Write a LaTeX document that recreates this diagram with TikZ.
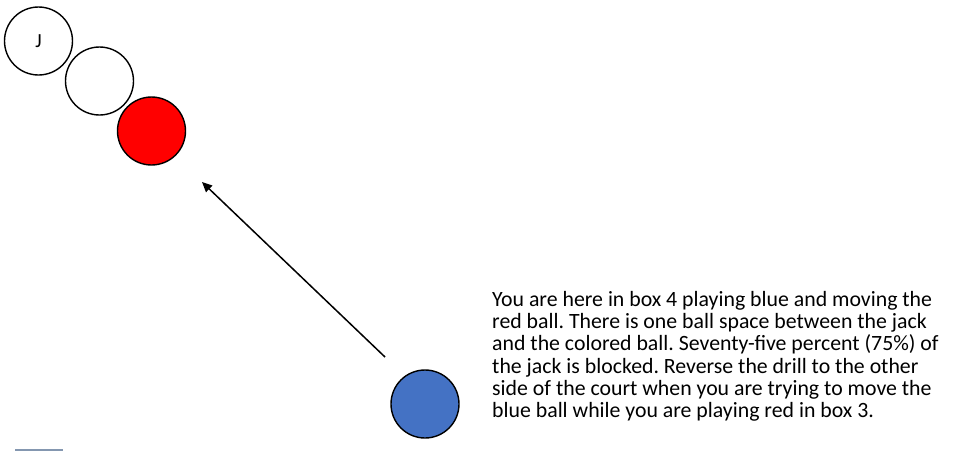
\documentclass[tikz,border=0pt]{standalone}
\usepackage{fontspec}
\setmainfont{Carlito}
\usetikzlibrary{arrows.meta}
\definecolor{ballblue}{HTML}{4472C4}
\definecolor{ballred}{HTML}{FF0000}
\definecolor{rulegray}{HTML}{8497B0}
\tikzset{
  ball/.style={circle, draw=black, line width=1.4pt, minimum size=68pt, inner sep=0pt},
}
\begin{document}
\frenchspacing
\begin{tikzpicture}[x=1pt,y=-1pt]
    \useasboundingbox (0,0) rectangle (956,451);

    % jack and the balls in front of it
    \node[ball, font=\fontsize{20}{22}\selectfont] (jack) at (38.5,41) {J};
    \node[ball] (space) at (99.5,81) {};
    \node[ball, fill=ballred] (red) at (151.5,131) {};

    % ball being played
    \node[ball, fill=ballblue] (blue) at (425,404) {};

    % shot line
    \coordinate (start) at (385,357);
    \coordinate (tip) at (202,182);
    \draw[line width=1.5pt, -{Triangle[length=10pt,width=9pt]}] (start) -- (tip);

    % short rule at the bottom left
    \draw[rulegray, line width=1.5pt] (15,450) -- (63,450);

    % drill notes
    \node[anchor=north west, inner sep=0pt, align=left,
          font=\fontsize{21.8}{22.3}\selectfont] (notes) at (492,291)
      {You are here in box 4 playing blue and moving the\\
       red ball. There is one ball space between the jack\\
       and the colored ball. Seventy-five percent (75\%) of\\
       the jack is blocked. Reverse the drill to the other\\
       side of the court when you are trying to move the\\
       blue ball while you are playing red in box 3.};
\end{tikzpicture}
\end{document}
